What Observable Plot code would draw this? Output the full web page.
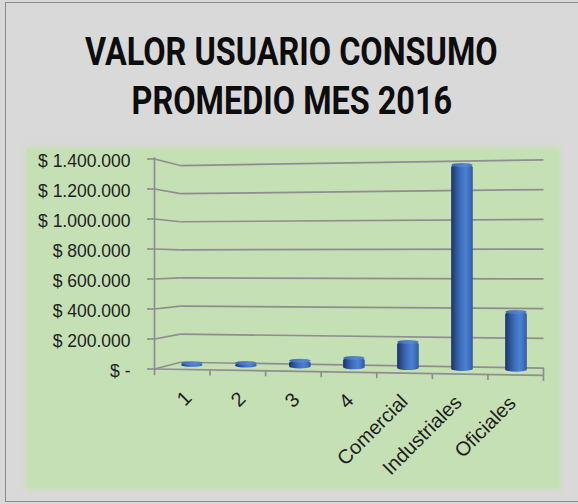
<!DOCTYPE html>
<html>
<head>
<meta charset="utf-8">
<script src="https://cdn.jsdelivr.net/npm/d3@7"></script>
<script src="https://cdn.jsdelivr.net/npm/@observablehq/plot@0.6"></script>
<style>
html, body { margin: 0; padding: 0; background: #d9d9d9; }
#root { position: relative; width: 578px; height: 504px; overflow: hidden; background: #d9d9d9; }
#frame { position: absolute; left: 5px; top: 2px; width: 620px; height: 500px; border: 1px solid #8a8a8a; border-right: none; box-sizing: border-box; }
#green { position: absolute; left: 27px; top: 149px; width: 532px; height: 339px; background: #c5e0b4; box-shadow: 0 0 4px 2px rgba(197,224,180,0.85); }
#title { position: absolute; left: 0; top: 28px; width: 583px; text-align: center; font-family: Roboto, "Liberation Sans", sans-serif; font-weight: bold; font-size: 39px; line-height: 49px; color: #0d0d0d; }
#title div { white-space: nowrap; }
#title span { display: inline-block; white-space: nowrap; }
#chart { position: absolute; left: 0; top: 148px; }
</style>
</head>
<body>
<div id="root">
  <div id="frame"></div>
  <div id="green"></div>
  <div id="title"></div>
  <div id="chart"></div>
</div>
<script>
// ---- data ----
const titleLines = ["VALOR USUARIO CONSUMO", "PROMEDIO MES 2016"];
const categories = ["1", "2", "3", "4", "Comercial", "Industriales", "Oficiales"];
const values = [10000, 17000, 38000, 62000, 174000, 1360000, 385000];
const yTicks = [0, 200000, 400000, 600000, 800000, 1000000, 1200000, 1400000];
const yTickLabels = ["$ -", "$ 200.000", "$ 400.000", "$ 600.000", "$ 800.000", "$ 1.000.000", "$ 1.200.000", "$ 1.400.000"];

// ---- title ----
const titleEl = document.getElementById("title");
titleLines.forEach(t => {
  const line = document.createElement("div");
  const sp = document.createElement("span");
  sp.textContent = t;
  line.appendChild(sp);
  titleEl.appendChild(line);
});
function fitTitle() {
  const spans = titleEl.querySelectorAll("span");
  const w = spans[0].offsetWidth;
  const s = 413 / w;
  spans.forEach(sp => sp.style.transform = `scaleX(${s})`);
}
fitTitle();

// ---- pseudo-3D geometry (display only) ----
const xFront = -0.7, xBack = -0.22, xRight = 6.5;
const backL = v => 45000 + v * 0.9367;
const backR = v => 5333 + v * 0.9924;
const floorFrontRight = -43000;
const frontY = x => floorFrontRight * (x - xFront) / (xRight - xFront);
const depthBase = i => 25000 - 5500 * i;
const half = 0.2;

const grid = {stroke: "#8e8e8e", strokeWidth: 1.7};
const frontTicks = d3.range(8);

const svg = Plot.plot({
  width: 578,
  height: 356,
  marginLeft: 154,
  marginRight: 35,
  marginTop: 10.5,
  marginBottom: 135.5,
  x: {domain: [xFront, xRight], axis: null},
  y: {domain: [0, 1400000], axis: null},
  style: {background: "transparent", overflow: "visible", fontFamily: "Liberation Sans, Arial, sans-serif"},
  marks: [
    Plot.link(yTicks, {x1: xFront, y1: d => d, x2: xBack, y2: backL, ...grid}),
    Plot.link(yTicks, {x1: xBack, y1: backL, x2: xRight, y2: backR, ...grid}),
    Plot.ruleY(yTicks, {x1: xFront - 0.13, x2: xFront, ...grid}),
    Plot.ruleX([xFront], {y1: -45000, y2: 1408000, ...grid}),
    Plot.link([0], {x1: xFront, y1: 0, x2: xRight, y2: floorFrontRight, ...grid}),
    Plot.ruleX([xRight], {y1: backR(0), y2: floorFrontRight, ...grid}),
    Plot.ruleX(frontTicks.slice(1), {
      x: j => xFront + (xRight - xFront) * j / 7,
      y1: j => frontY(xFront + (xRight - xFront) * j / 7),
      y2: j => frontY(xFront + (xRight - xFront) * j / 7) - 40000,
      ...grid
    }),
    Plot.rect(values, {
      x1: (d, i) => i - half, x2: (d, i) => i + half,
      y1: (d, i) => depthBase(i), y2: (d, i) => depthBase(i) + d,
      fill: "url(#cylBody)", rx: 11, ry: 2, insetBottom: -2
    }),
    Plot.rect(values, {
      x1: (d, i) => i - half, x2: (d, i) => i + half,
      y1: (d, i) => depthBase(i) + d, y2: (d, i) => depthBase(i) + d,
      fill: "url(#cylTop)", rx: 11, ry: 2, insetTop: -2, insetBottom: -2
    }),
    Plot.text(yTicks, {
      x: xFront, y: d => d, text: (d, i) => yTickLabels[i],
      textAnchor: "end", dx: -24, dy: 2, fontSize: 17.5, fill: "#1f1f1f"
    }),
    Plot.text(categories, {
      x: (d, i) => i, y: (d, i) => frontY(i), text: d => d,
      rotate: -45, textAnchor: "end", dx: -4, dy: 25, fontSize: 20, fill: "#1f1f1f"
    })
  ]
});

svg.insertAdjacentHTML("afterbegin", `
<defs>
  <linearGradient id="cylBody" x1="0" y1="0" x2="1" y2="0">
    <stop offset="0" stop-color="#1b3260"/>
    <stop offset="0.18" stop-color="#2b4f8f"/>
    <stop offset="0.45" stop-color="#3f6fbf"/>
    <stop offset="0.68" stop-color="#4c80d3"/>
    <stop offset="0.88" stop-color="#3e6cba"/>
    <stop offset="1" stop-color="#2f5597"/>
  </linearGradient>
  <linearGradient id="cylTop" x1="0" y1="0" x2="1" y2="0">
    <stop offset="0" stop-color="#3a66b0"/>
    <stop offset="0.6" stop-color="#5687d4"/>
    <stop offset="1" stop-color="#4a79c4"/>
  </linearGradient>
</defs>`);

document.getElementById("chart").appendChild(svg);
if (document.fonts && document.fonts.ready) document.fonts.ready.then(fitTitle);
</script>
</body>
</html>
